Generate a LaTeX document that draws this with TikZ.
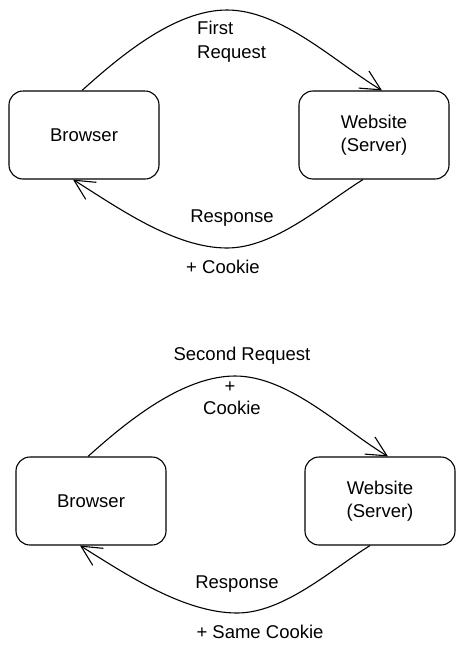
\documentclass[tikz,border=0pt]{standalone}
\usepackage{fontspec}
\setmainfont{Liberation Sans}
\usetikzlibrary{arrows.meta,positioning}

\begin{document}
\begin{tikzpicture}[
    x=1pt, y=-1pt,
    party/.style={draw, rounded corners=14pt, line width=1.1pt, minimum width=150pt, minimum height=88pt, align=center, font=\fontsize{18.5}{23}\selectfont},
    msg/.style={line width=1.1pt, -{Straight Barb[length=20pt,width=20pt,line width=1.1pt]}},
    lbl/.style={inner sep=0pt, font=\fontsize{18.5}{24}\selectfont}
]
    \useasboundingbox (0,0) rectangle (465,654);

    % first request
    \node[party] (br1) at (84,135)  {Browser};
    \node[party] (ws1) at (374,135) {Website\\(Server)};
    \coordinate (top1) at (227,10);
    \coordinate (bot1) at (227,248);

    \draw[msg] ([xshift=-2pt]br1.north) to[out=42,in=180,looseness=0.8] (top1) to[out=0,in=149,looseness=0.8] ([xshift=8pt]ws1.north);
    \draw[msg] ([xshift=-11pt]ws1.south) to[out=212,in=0,looseness=0.8] (bot1) to[out=180,in=328,looseness=0.8] ([xshift=-11pt]br1.south);

    \node[lbl, align=left, anchor=west] (req1) at (197,42) {First\\Request};
    \node[lbl] (resp1) at (232,218) {Response};
    \node[lbl] (ck1)   at (223,267) {+ Cookie};

    % second request
    \node[party] (br2) at (91,501)  {Browser};
    \node[party] (ws2) at (380,501) {Website\\(Server)};
    \coordinate (top2) at (235,376);
    \coordinate (bot2) at (237,613);

    \draw[msg] ([xshift=-3pt]br2.north) to[out=42,in=180,looseness=0.8] (top2) to[out=0,in=149,looseness=0.8] ([xshift=8pt]ws2.north);
    \draw[msg] ([xshift=-10pt]ws2.south) to[out=212,in=0,looseness=0.8] (bot2) to[out=180,in=328,looseness=0.8] ([xshift=-11pt]br2.south);

    \node[lbl] (req2)  at (242,356) {Second Request};
    \node[lbl] (plus2) at (230,387) {+};
    \node[lbl] (ck2)   at (232,408) {Cookie};
    \node[lbl] (resp2) at (237,584) {Response};
    \node[lbl] (ck3)   at (260,632) {+ Same Cookie};
\end{tikzpicture}
\end{document}
